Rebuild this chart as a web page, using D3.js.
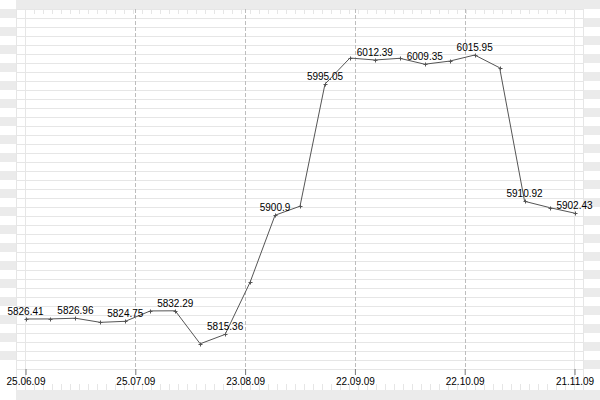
<!DOCTYPE html>
<html>
<head>
<meta charset="utf-8">
<script src="https://cdn.jsdelivr.net/npm/d3@7"></script>
<style>
  html, body { margin: 0; padding: 0; background: #fff; }
  svg { display: block; }
</style>
</head>
<body>
<svg id="chart" width="600" height="400"></svg>
<script>
// ---- data ----
const values = [
  5826.41, 5826.45, 5826.96, 5824.0, 5824.75, 5832.2, 5832.29, 5808.6,
  5815.36, 5852.8, 5900.9, 5907.4, 5995.05, 6013.8, 6012.39, 6013.6,
  6009.35, 6011.6, 6015.95, 6006.8, 5910.92, 5906.4, 5902.43
];
const labeledIdx = [0, 2, 4, 6, 8, 10, 12, 14, 16, 18, 20, 22];
const dateLabels = ["25.06.09", "25.07.09", "23.08.09", "22.09.09", "22.10.09", "21.11.09"];
const yDomain = [5790.5, 6049];

// ---- layout ----
const W = 600, H = 400;
const plotL = 16, plotR = 583, plotT = 9, plotB = 369;
const bandColor = "#ebebeb", gridColor = "#e6e6e6";
const svg = d3.select("#chart");

const x = d3.scaleLinear().domain([0, values.length - 1]).range([25.5, 574.5]);
const y = d3.scaleLinear().domain(yDomain).range([plotB, plotT]);
const tickPos = dateLabels.map((d, i) => i * (values.length - 1) / (dateLabels.length - 1));

// top and bottom bands
svg.append("rect").attr("x", plotL).attr("y", 0).attr("width", W - plotL).attr("height", plotT).attr("fill", bandColor);
svg.append("rect").attr("x", plotL).attr("y", 390).attr("width", W - plotL).attr("height", 10).attr("fill", bandColor);

// side stripes
const rows = d3.range(0, 40);
svg.append("g").selectAll("rect").data(rows.filter(k => k % 2 === 0)).join("rect")
  .attr("x", 0).attr("y", k => plotT + k * 9).attr("width", plotL).attr("height", 9)
  .attr("fill", bandColor);
svg.append("g").selectAll("rect").data(rows.filter(k => k % 2 === 1)).join("rect")
  .attr("x", plotR).attr("y", k => plotT + k * 9).attr("width", W - plotR).attr("height", 9)
  .attr("fill", bandColor);

// horizontal grid lines every 9px
const hl = d3.range(plotT, plotB + 1, 9);
svg.append("g").selectAll("line").data(hl).join("line")
  .attr("x1", plotL).attr("x2", plotR)
  .attr("y1", d => d + 0.5).attr("y2", d => d + 0.5)
  .attr("stroke", gridColor).attr("stroke-width", 1);

// vertical frame lines
[plotL, 25, 574, plotR].forEach(v => {
  svg.append("line").attr("x1", v + 0.5).attr("x2", v + 0.5)
    .attr("y1", plotT).attr("y2", 390)
    .attr("stroke", gridColor).attr("stroke-width", 1);
});

// small ticks top and bottom
const st = d3.range(plotL, plotR + 1, 9);
svg.append("g").selectAll("line").data(st).join("line")
  .attr("x1", d => d + 0.5).attr("x2", d => d + 0.5)
  .attr("y1", plotT).attr("y2", plotT + 5)
  .attr("stroke", gridColor);
svg.append("g").selectAll("line").data(st).join("line")
  .attr("x1", d => d + 0.5).attr("x2", d => d + 0.5)
  .attr("y1", 384).attr("y2", 390)
  .attr("stroke", gridColor);

// dashed vertical lines at inner date ticks
svg.append("g").selectAll("line").data(tickPos.slice(1, -1)).join("line")
  .attr("x1", d => Math.round(x(d)) + 0.5).attr("x2", d => Math.round(x(d)) + 0.5)
  .attr("y1", plotT).attr("y2", plotB)
  .attr("stroke", "#bdbdbd").attr("stroke-dasharray", "4,2");

// x axis
const axis = d3.axisBottom(x)
  .tickValues(tickPos)
  .tickFormat((d, i) => dateLabels[i])
  .tickSize(6).tickPadding(3);
const ax = svg.append("g").attr("transform", `translate(0,${plotB})`).call(axis);
ax.select(".domain").remove();
ax.selectAll(".tick line").attr("stroke", "#777");
ax.selectAll(".tick text").attr("fill", "#000")
  .style("font-family", "'Liberation Sans', Arial, sans-serif").style("font-size", "10px");

// line
const line = d3.line().x((d, i) => x(i)).y(d => y(d));
svg.append("path").datum(values).attr("d", line)
  .attr("fill", "none").attr("stroke", "#555").attr("stroke-width", 1);

// markers (+)
const mk = svg.append("g").selectAll("path").data(values).join("path")
  .attr("d", (d, i) => {
    const cx = Math.round(x(i)) + 0.5, cy = Math.round(y(d)) + 0.5;
    return `M${cx - 2},${cy}H${cx + 2}M${cx},${cy - 2}V${cy + 2}`;
  })
  .attr("stroke", "#555").attr("stroke-width", 1);

// value labels
svg.append("g").selectAll("text").data(labeledIdx).join("text")
  .attr("x", i => x(i)).attr("y", i => y(values[i]) - 4)
  .attr("text-anchor", "middle")
  .style("font-family", "'Liberation Sans', Arial, sans-serif").style("font-size", "10px")
  .attr("fill", "#000")
  .text(i => values[i]);
</script>
</body>
</html>
